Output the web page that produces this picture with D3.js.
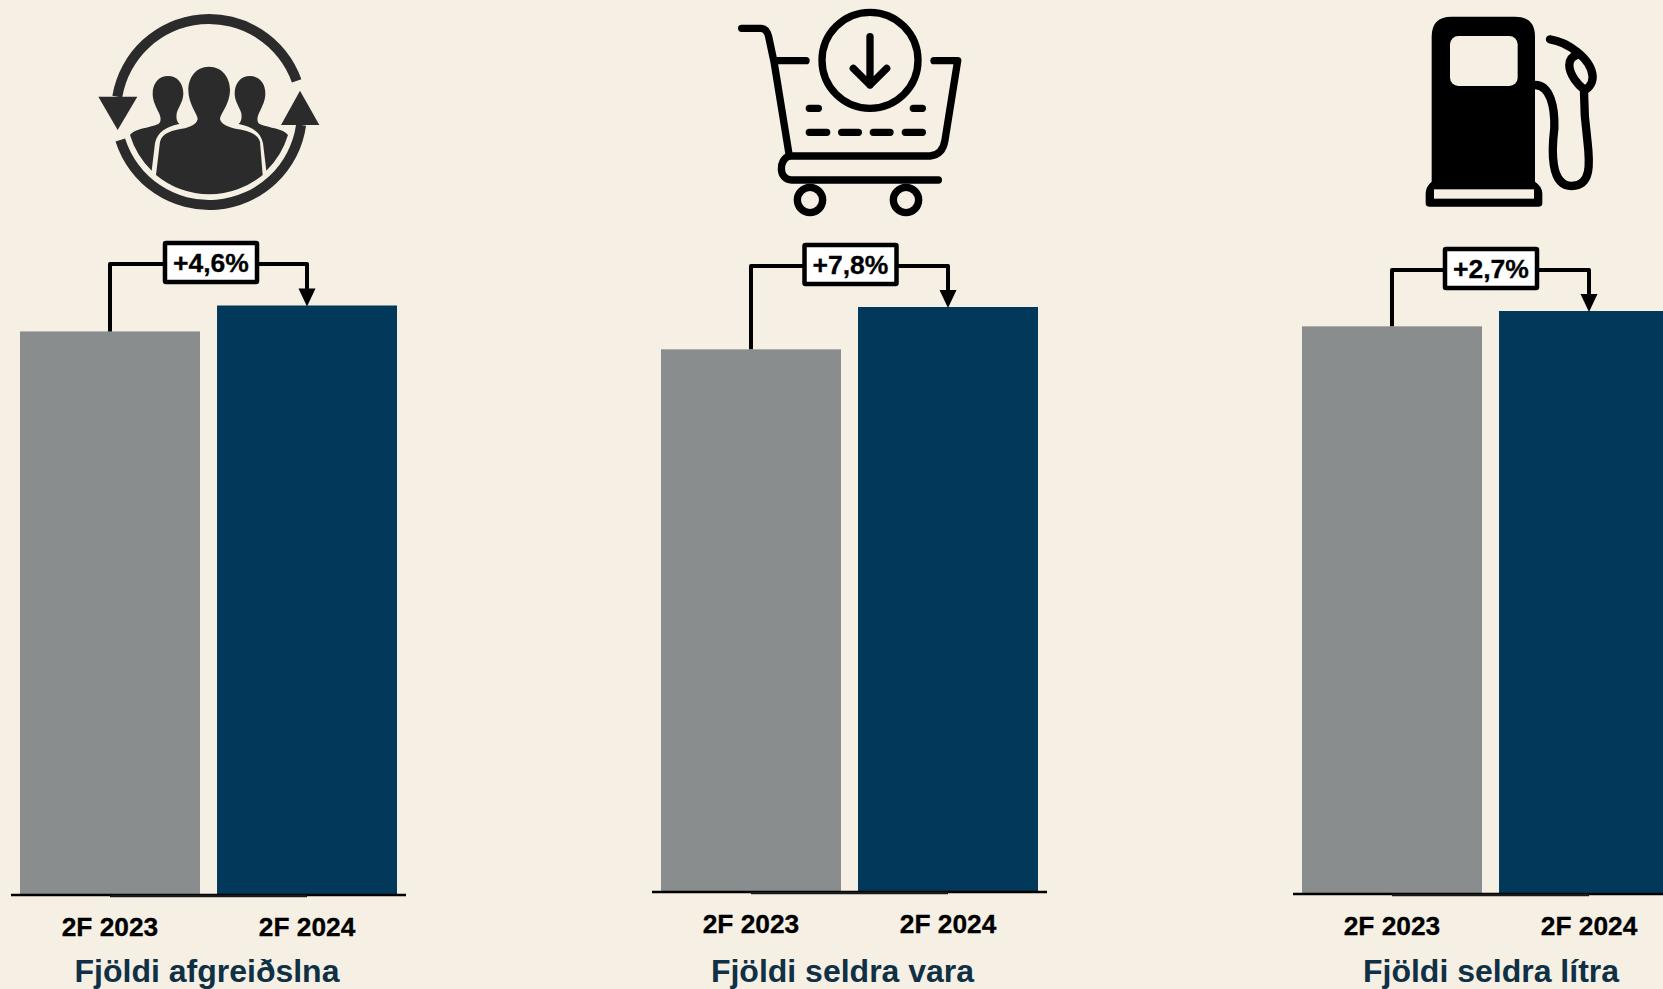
<!DOCTYPE html>
<html>
<head>
<meta charset="utf-8">
<script src="https://cdn.jsdelivr.net/npm/d3@7"></script>
<style>
  html, body { margin: 0; padding: 0; background: #f5efe4; overflow: hidden; }
  text { font-family: "Liberation Sans", Arial, sans-serif; font-weight: bold; }
</style>
</head>
<body>
<script>
const width = 1663;
const height = 989;

// chart values (2F 2023 as index 100 in every panel)
const periods = ["2F 2023", "2F 2024"];
const titles = ["Fjöldi afgreiðslna", "Fjöldi seldra vara", "Fjöldi seldra lítra"];
const values2023 = [100, 100, 100];
const values2024 = [104.6, 107.8, 102.7];
const changeLabels = ["+4,6%", "+7,8%", "+2,7%"];

// layout of each panel
const panelLeft = [20, 661, 1302];
const panelBase = [895, 892, 894];
const panelTop = [305.5, 307, 311];
const connectorY = [264, 266, 270];
const boxLeft = [163, 802.5, 1443];
const titleCenter = [207, 842.5, 1491];

const barColors = ["#8a8d8d", "#02395b"];
const titleColor = "#0f3045";
const bg = "#f5efe4";

const svg = d3.select("body").append("svg")
  .attr("width", width)
  .attr("height", height)
  .style("display", "block");

svg.append("rect")
  .attr("width", width)
  .attr("height", height)
  .attr("fill", bg);

titles.forEach(function(title, i) {
  const g = svg.append("g").attr("transform", "translate(" + panelLeft[i] + ",0)");
  const vals = [values2023[i], values2024[i]];

  const x = d3.scaleBand().domain(periods).range([0, 377]).paddingInner(0.0865);
  const y = d3.scaleLinear().domain([0, values2024[i]]).range([panelBase[i], panelTop[i]]);

  g.selectAll("rect.bar")
    .data(vals)
    .enter().append("rect")
    .attr("class", "bar")
    .attr("x", function(d, j) { return x(periods[j]); })
    .attr("y", function(d) { return y(d); })
    .attr("width", x.bandwidth())
    .attr("height", function(d) { return y(0) - y(d); })
    .attr("fill", function(d, j) { return barColors[j]; });

  // baseline, a bit wider than the bars
  g.append("line")
    .attr("x1", -9).attr("x2", 386)
    .attr("y1", y(0)).attr("y2", y(0))
    .attr("stroke", "#000").attr("stroke-width", 2.4);

  const cx0 = x(periods[0]) + x.bandwidth() / 2;
  const cx1 = x(periods[1]) + x.bandwidth() / 2;

  g.append("line")
    .attr("x1", cx0).attr("x2", cx1)
    .attr("y1", y(0) + 1).attr("y2", y(0) + 1)
    .attr("stroke", "#1a1a1a").attr("stroke-width", 2.4);

  // tick labels
  const axis = g.append("g")
    .attr("transform", "translate(0," + y(0) + ")")
    .call(d3.axisBottom(x).tickSize(0).tickPadding(22));
  axis.select(".domain").remove();
  axis.selectAll("text")
    .attr("font-size", 26.3)
    .attr("font-family", "Liberation Sans")
    .attr("font-weight", "bold")
    .attr("fill", "#000")
    .attr("stroke", "#000")
    .attr("stroke-width", 0.3);

  // connector with arrow
  const cy = connectorY[i];
  const tipY = y(vals[1]);
  g.append("path")
    .attr("d", d3.line()([[cx0, y(vals[0])], [cx0, cy], [cx1, cy], [cx1, tipY - 12]]))
    .attr("fill", "none")
    .attr("stroke", "#000")
    .attr("stroke-width", 4)
    .attr("stroke-linejoin", "round");
  g.append("path")
    .attr("d", d3.line()([[cx1 - 8.5, tipY - 17], [cx1 + 8.5, tipY - 17], [cx1, tipY + 1]]) + "Z")
    .attr("fill", "#000");

  // change box
  const bx = boxLeft[i] - panelLeft[i];
  g.append("rect")
    .attr("x", bx + 2).attr("y", cy - 21)
    .attr("width", 92).attr("height", 39)
    .attr("rx", 1)
    .attr("fill", "#fff")
    .attr("stroke", "#000")
    .attr("stroke-width", 4.5);
  g.append("text")
    .attr("x", bx + 48).attr("y", cy + 8)
    .attr("text-anchor", "middle")
    .attr("font-size", 26.5)
    .attr("fill", "#000")
    .attr("stroke", "#000")
    .attr("stroke-width", 0.3)
    .text(changeLabels[i]);

  // panel title
  svg.append("text")
    .attr("x", titleCenter[i]).attr("y", 982)
    .attr("text-anchor", "middle")
    .attr("font-size", 32)
    .attr("fill", titleColor)
    .text(title);
});

// icons, drawn at 3x in their own box
function iconGroup(px, py) {
  return svg.append("g").attr("transform", "translate(" + px + "," + py + ") scale(" + (1 / 3) + ")");
}

// customers
const people = iconGroup(80, 0);
const ink = "#2b2b2b";
const ring = d3.arc().innerRadius(264).outerRadius(294);
const deg = Math.PI / 180;
people.append("path")
  .attr("transform", "translate(387,336)")
  .attr("d", ring({startAngle: -80.5 * deg, endAngle: 70.4 * deg}))
  .attr("fill", ink);
people.append("path")
  .attr("transform", "translate(387,336)")
  .attr("d", ring({startAngle: 98 * deg, endAngle: 252.5 * deg}))
  .attr("fill", ink);
people.append("path").attr("d", "M55 290H172L113 390Z").attr("fill", ink);
people.append("path").attr("d", "M603 375H718L660 272Z").attr("fill", ink);
people.append("path")
  .attr("d", "M387 200C428 200 450 235 450 270C450 310 425 335 420 355C420 368 435 378 460 385C500 392 530 398 540 425L548 525A250 250 0 0 1 228 525L240 425C248 398 275 392 315 385C340 378 353 368 353 355C348 335 325 310 325 270C325 235 346 200 387 200Z")
  .attr("fill", ink);
const sidePerson = "M264 228C292 228 310 250 310 280C310 305 296 320 290 340C288 355 290 365 298 372C260 380 232 395 225 430L215 512A250 250 0 0 1 150 405C165 385 205 385 235 372C245 365 243 350 235 335C225 315 218 300 218 280C218 250 236 228 264 228Z";
people.append("path").attr("d", sidePerson).attr("fill", ink);
people.append("path").attr("d", sidePerson).attr("fill", ink)
  .attr("transform", "translate(774,0) scale(-1,1)");

// shopping cart
const cart = iconGroup(720, 0).attr("fill", "none").attr("stroke", "#000")
  .attr("stroke-width", 22).attr("stroke-linecap", "round").attr("stroke-linejoin", "round");
cart.append("path").attr("d", "M65 85H122Q140 85 146 110L162 185L208 468H630Q668 465 675 420L713 182H642");
cart.append("path").attr("d", "M170 182H258");
cart.append("path").attr("d", "M208 468C175 478 175 540 215 540H655");
cart.append("circle").attr("cx", 450).attr("cy", 181).attr("r", 144);
cart.append("path").attr("d", "M450 110V255M400 205L450 255L500 205");
cart.append("path").attr("d", "M268 325H295M580 325H607M268 397H320M365 397H415M460 397H510M556 397H607");
cart.append("circle").attr("cx", 270).attr("cy", 600).attr("r", 38);
cart.append("circle").attr("cx", 558).attr("cy", 600).attr("r", 38);

// fuel pump
const pump = iconGroup(1410, 0);
pump.append("path").attr("d", "M65 110Q65 50 125 50H315Q375 50 375 110V545Q397 560 397 580V610Q397 620 387 620H57Q47 620 47 610V580Q47 560 65 545Z").attr("fill", "#000");
pump.append("rect").attr("x", 120).attr("y", 108).attr("width", 203).attr("height", 150).attr("rx", 25).attr("fill", bg);
pump.append("rect").attr("x", 72).attr("y", 568).attr("width", 300).attr("height", 28).attr("fill", bg);
pump.append("path")
  .attr("d", "M375 255C420 255 435 320 433 385C425 450 420 558 485 558C545 558 540 490 532 420C525 370 522 320 522 275M420 118C470 125 545 175 548 230C548 255 530 270 522 268C505 255 478 225 478 195C478 180 485 170 500 165")
  .attr("fill", "none").attr("stroke", "#000").attr("stroke-width", 25).attr("stroke-linecap", "round");
</script>
</body>
</html>
